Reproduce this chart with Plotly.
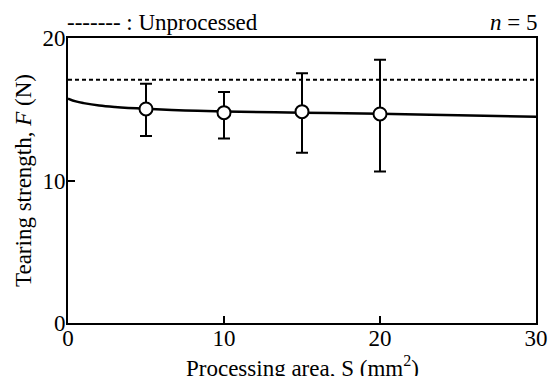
import plotly.graph_objects as go

# Data
curve_x = [0, 0.5, 1, 2, 3, 5, 7.5, 10, 15, 20, 25, 30]
curve_y = [15.75, 15.55, 15.43, 15.26, 15.16, 15.03, 14.92, 14.84, 14.76, 14.68, 14.58, 14.48]
pt_x = [5, 10, 15, 20]
pt_y = [15.02, 14.76, 14.83, 14.67]
err_plus = [1.77, 1.45, 2.69, 3.81]
err_minus = [1.90, 1.81, 2.88, 4.03]
unprocessed = 17.07

FONT = "Liberation Serif"
TICK = 23
TITLE = 23

fig = go.Figure()
fig.add_trace(go.Scatter(x=[0, 30], y=[unprocessed, unprocessed], mode="lines",
                         line=dict(color="black", width=1.8, dash="4px,3px"),
                         showlegend=False, hoverinfo="skip"))
fig.add_trace(go.Scatter(x=curve_x, y=curve_y, mode="lines",
                         line=dict(color="black", width=2.5, shape="spline", smoothing=1.0),
                         showlegend=False))
fig.add_trace(go.Scatter(x=pt_x, y=pt_y, mode="markers",
                         marker=dict(symbol="circle", size=13, color="white",
                                     line=dict(color="black", width=2)),
                         error_y=dict(type="data", array=err_plus, arrayminus=err_minus,
                                      color="black", thickness=2, width=6),
                         showlegend=False))

axis_common = dict(showgrid=False, zeroline=False, showline=True, linecolor="black",
                   linewidth=2, mirror=True, ticks="inside", ticklen=7, tickwidth=2,
                   tickcolor="black", automargin=False,
                   tickfont=dict(family=FONT, size=TICK, color="black"))

fig.update_xaxes(range=[0, 30], tickvals=[0, 10, 20, 30], ticklabelstandoff=-7,
                 **axis_common)
fig.update_yaxes(range=[0, 20], tickvals=[0, 10, 20], ticklabelstandoff=-4,
                 title=dict(text="Tearing strength, <i>F</i> (N)",
                            font=dict(family=FONT, size=TITLE, color="black"), standoff=4),
                 **axis_common)

# x-axis title (placed as annotation to sit below tick labels as in the reference)
fig.add_annotation(x=0.5, xref="paper", xanchor="center",
                   y=0, yref="paper", yanchor="top", yshift=-27,
                   text="Processing area, S (mm<sup>2</sup>)", showarrow=False,
                   font=dict(family=FONT, size=TITLE, color="black"))

fig.add_annotation(x=0, xref="paper", xanchor="left", xshift=-3,
                   y=1, yref="paper", yanchor="bottom", yshift=1,
                   text="------- : Unprocessed", showarrow=False,
                   font=dict(family=FONT, size=TITLE, color="black"))
fig.add_annotation(x=1, xref="paper", xanchor="right", xshift=3,
                   y=1, yref="paper", yanchor="bottom", yshift=1,
                   text="<i>n</i> = 5", showarrow=False,
                   font=dict(family=FONT, size=TITLE, color="black"))

fig.update_layout(width=548, height=376, margin=dict(l=68, r=12, t=38, b=53),
                  paper_bgcolor="white", plot_bgcolor="white")

fig.write_html("out.html", config={"displayModeBar": False},
               post_script="document.body.style.margin='0';")
